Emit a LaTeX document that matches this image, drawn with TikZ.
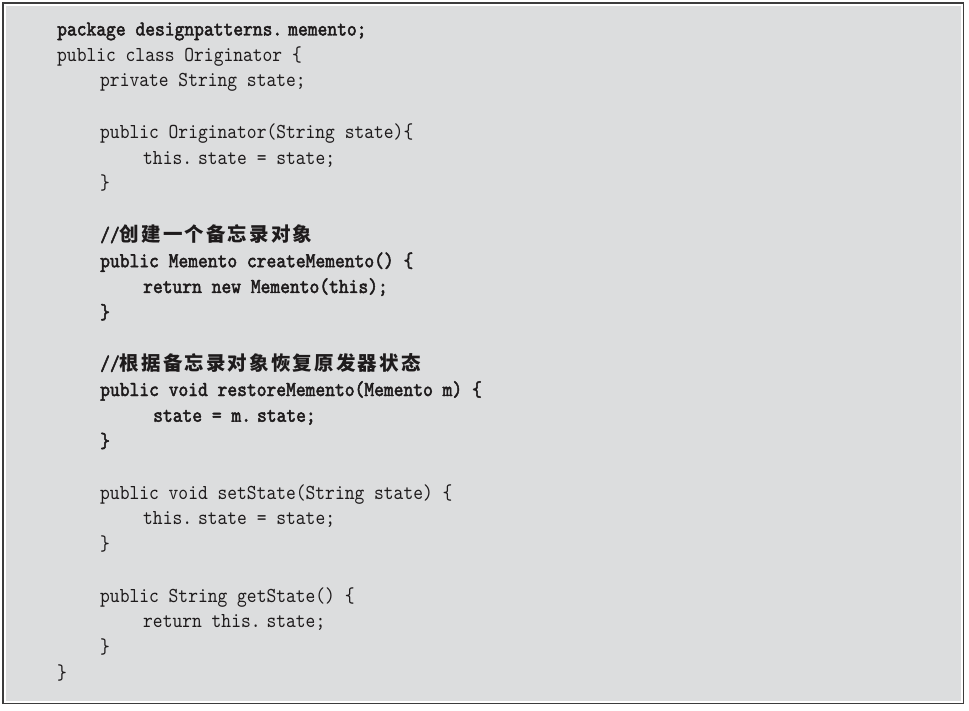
\documentclass[tikz,border=0pt]{standalone}
\usepackage{fontspec}
\newfontfamily\codefont{lmmono10-regular.otf}[BoldFont=lmmono10-regular.otf, BoldFeatures={FakeBold=2.2}, FakeStretch=0.875]
\newfontfamily\cjk{Noto Sans CJK SC}[LetterSpace=11]

\definecolor{boxgray}{RGB}{220,221,222}
\definecolor{ink}{RGB}{30,27,28}
\definecolor{framegray}{RGB}{60,60,60}

\tikzset{
  code/.style = {anchor=base west, inner sep=0pt, text=ink,
                 font=\codefont\fontsize{21.3}{25.75}\selectfont},
  boldcode/.style = {code, font=\codefont\bfseries\fontsize{21.3}{25.75}\selectfont},
}
\newcommand{\zh}[1]{{\cjk\fontsize{19.5}{25.75}\selectfont #1}}
\newcommand{\dt}{.\kern6pt}

\begin{document}
\begin{tikzpicture}[x=1pt, y=-1pt]
    \useasboundingbox (0,0) rectangle (969,711);

    % Frame
    \fill[white] (0,0) rectangle (969,711);
    \draw[framegray, line width=1.3pt] (3,3) rectangle (963.5,703.5);
    \fill[boxgray] (6,6.5) rectangle (961,700.5);

    % Class header
    \node[boldcode] (pkg)    at (57,35.5)   {package designpatterns\dt memento;};
    \node[code]     (cls)    at (57,61.25)  {public class Originator \{};
    \node[code]     (field)  at (100,87)    {private String state;};

    % Constructor
    \node[code]     (ctor)   at (100,138.5) {public Originator(String state)\{};
    \node[code]     (ctorb)  at (143,164.25){this\dt state = state;};
    \node[code]     (ctore)  at (100,190)   {\}};

    % createMemento
    \node[boldcode] (cmt1)   at (100,241.5) {//\zh{创建一个备忘录对象}};
    \node[boldcode] (create) at (100,267.25){public Memento createMemento() \{};
    \node[boldcode] (createb)at (143,293)   {return new Memento(this);};
    \node[boldcode] (createe)at (100,318.75){\}};

    % restoreMemento
    \node[boldcode] (cmt2)   at (100,370.25){//\zh{根据备忘录对象恢复原发器状态}};
    \node[boldcode] (restore)at (100,396)   {public void restoreMemento(Memento m) \{};
    \node[boldcode] (restoreb)at (153,421.75){state = m\dt state;};
    \node[boldcode] (restoree)at (100,447.5){\}};

    % setState
    \node[code]     (set)    at (100,499)   {public void setState(String state) \{};
    \node[code]     (setb)   at (143,524.75){this\dt state = state;};
    \node[code]     (sete)   at (100,550.5) {\}};

    % getState
    \node[code]     (get)    at (100,602)   {public String getState() \{};
    \node[code]     (getb)   at (143,627.75){return this\dt state;};
    \node[code]     (gete)   at (100,653.5) {\}};
    \node[code]     (clse)   at (57,679.25) {\}};
\end{tikzpicture}
\end{document}
